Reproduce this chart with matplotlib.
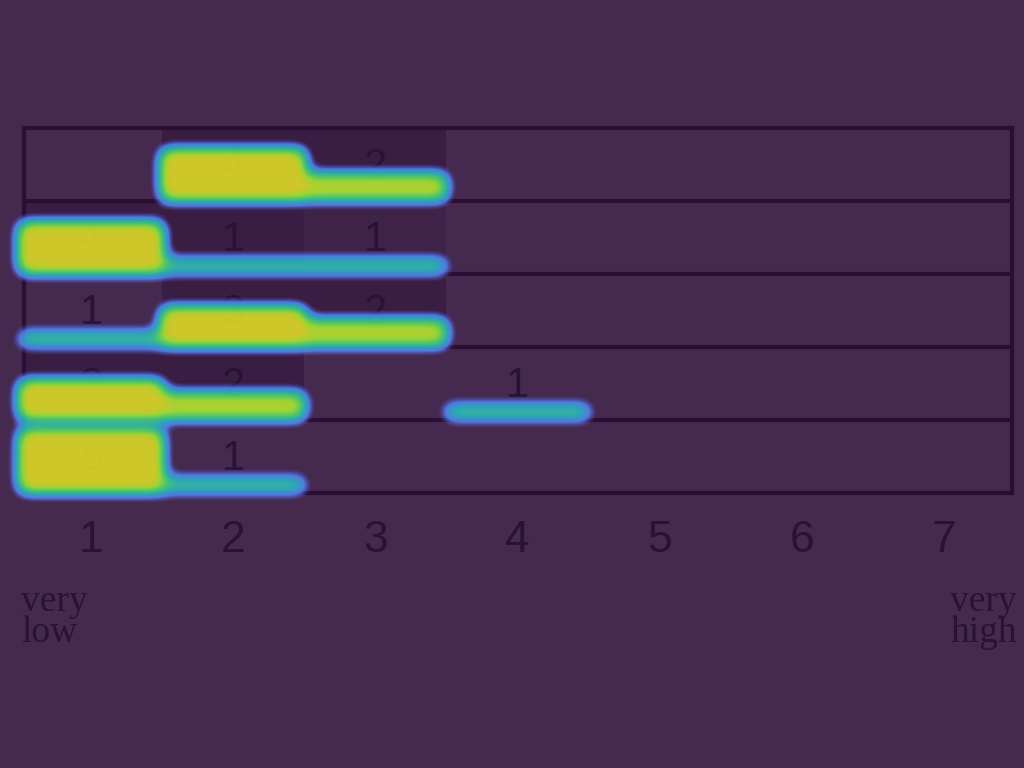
import numpy as np
import matplotlib
matplotlib.use("Agg")
import matplotlib.pyplot as plt
from matplotlib.colors import LinearSegmentedColormap
from matplotlib.patches import Rectangle

# counts per row (top to bottom), columns are rating 1..7
ratings = [1, 2, 3, 4, 5, 6, 7]
row1 = [0, 4, 2, 0, 0, 0, 0]
row2 = [4, 1, 1, 0, 0, 0, 0]
row3 = [1, 3, 2, 0, 0, 0, 0]
row4 = [3, 2, 0, 1, 0, 0, 0]
row5 = [5, 1, 0, 0, 0, 0, 0]
rows = [row1, row2, row3, row4, row5]

# darker table cells in the underlying sheet
shade1 = [0, 1, 1, 0, 0, 0, 0]
shade2 = [1, 1, 0.5, 0, 0, 0, 0]
shade3 = [0, 1, 1, 0, 0, 0, 0]
shade4 = [1, 1, 0, 0, 0, 0, 0]
shade5 = [1, 0, 0, 0, 0, 0, 0]
shades = [shade1, shade2, shade3, shade4, shade5]

low_label = ["very", "low"]
high_label = ["very", "high"]

BG = "#45294f"
LINE = "#2a0e34"
INK = "#2a1235"

W, H = 1024, 768


def px2x(px):
    return 1 + (px - 91) / 142.2


def py2y(py):
    return 5 - (py - 128) / 73.0


fig = plt.figure(figsize=(10.24, 7.68), dpi=100, facecolor=BG)
ax = fig.add_axes([0, 0, 1, 1])
ax.set_facecolor(BG)
xlim = (px2x(0), px2x(W))
ylim = (py2y(H), py2y(0))
ax.set_xlim(*xlim)
ax.set_ylim(*ylim)
ax.axis("off")

nrows = len(rows)
xl, xr = px2x(24), px2x(1012)

# cell shading, clipped to the table box
im = ax.imshow(np.array(shades), extent=[0.5, len(ratings) + 0.5, 0, nrows],
               cmap=LinearSegmentedColormap.from_list("sh", [BG, "#3a1d43"]),
               vmin=0, vmax=1, aspect="auto", interpolation="nearest", zorder=1)
box = Rectangle((xl, 0), xr - xl, nrows, transform=ax.transData, facecolor="none", edgecolor="none")
ax.add_patch(box)
im.set_clip_path(box)

# table lines
for k in range(nrows + 1):
    ax.plot([xl, xr], [k, k], color=LINE, lw=3.0, zorder=2, solid_capstyle="projecting")
ax.plot([xl, xl], [0, nrows], color=LINE, lw=3.0, zorder=2)
ax.plot([xr, xr], [0, nrows], color=LINE, lw=3.0, zorder=2)

# counts in cells
for r, vals in enumerate(rows):
    yc = nrows - r - 0.5 - 0.04
    for c, v in zip(ratings, vals):
        if v > 0:
            ax.text(c, yc, str(v), ha="center", va="center", fontsize=30,
                    family="Liberation Sans", color=INK, zorder=3)

# heat overlay: bars per row, height grows with count, blurred
xs = np.linspace(xlim[0], xlim[1], W, endpoint=False) + (xlim[1] - xlim[0]) / W / 2
ys = np.linspace(ylim[1], ylim[0], H, endpoint=False) - (ylim[1] - ylim[0]) / H / 2
X, Y = np.meshgrid(xs, ys)
field = np.zeros_like(X)
unit = 0.165
for r, vals in enumerate(rows):
    ybot = nrows - r - 1 + 0.03
    for c, v in zip(ratings, vals):
        if v <= 0:
            continue
        inten = min(0.45 + 0.25 * v, 1.15)
        m = (X >= c - 0.5) & (X < c + 0.5) & (Y >= ybot) & (Y < ybot + unit * v)
        field[m] = np.maximum(field[m], inten)

sigma = 7.5
rad = int(3 * sigma)
offs = np.arange(-rad, rad + 1)
kern = np.exp(-0.5 * (offs / sigma) ** 2)
kern /= kern.sum()
pad = np.pad(field, rad)
tmp = sum(w * pad[:, rad + o: rad + o + W] for o, w in zip(offs, kern))
tmp = tmp[rad:-rad, :]
pad = np.pad(tmp, ((rad, rad), (0, 0)))
blur = sum(w * pad[rad + o: rad + o + H, :] for o, w in zip(offs, kern))

heat_cmap = LinearSegmentedColormap.from_list("heat", [
    (0.00, (0.30, 0.36, 0.92)),
    (0.18, (0.34, 0.50, 0.97)),
    (0.36, (0.16, 0.72, 0.76)),
    (0.56, (0.30, 0.85, 0.45)),
    (0.78, (0.66, 0.92, 0.20)),
    (1.00, (0.88, 0.86, 0.15)),
])
rgba = heat_cmap(np.clip(blur, 0, 1))
rgba[..., 3] = np.clip((blur - 0.06) / 0.14, 0, 1) * 0.9
ax.imshow(rgba, extent=[xlim[0], xlim[1], ylim[0], ylim[1]], aspect="auto",
          interpolation="bilinear", zorder=4)

# axis numbers
for c in ratings:
    ax.text(c, py2y(541), str(c), ha="center", va="center", fontsize=32,
            family="Liberation Sans", color=INK, zorder=3)

# anchor labels (baseline of the last line)
ax.text(px2x(21), py2y(642), "\n".join(low_label), ha="left", va="baseline",
        fontsize=27, linespacing=0.87, family="Liberation Serif", color=INK)
ax.text(px2x(1017), py2y(642), "\n".join(high_label), ha="right", va="baseline",
        fontsize=27, linespacing=0.87, family="Liberation Serif", color=INK)

fig.savefig("out.png", dpi=100, facecolor=BG)
